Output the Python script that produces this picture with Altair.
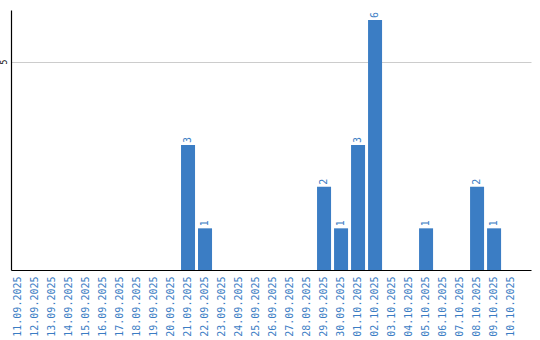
import altair as alt
import pandas as pd

dates = ["11.09.2025", "12.09.2025", "13.09.2025", "14.09.2025", "15.09.2025",
         "16.09.2025", "17.09.2025", "18.09.2025", "19.09.2025", "20.09.2025",
         "21.09.2025", "22.09.2025", "23.09.2025", "24.09.2025", "25.09.2025",
         "26.09.2025", "27.09.2025", "28.09.2025", "29.09.2025", "30.09.2025",
         "01.10.2025", "02.10.2025", "03.10.2025", "04.10.2025", "05.10.2025",
         "06.10.2025", "07.10.2025", "08.10.2025", "09.10.2025", "10.10.2025"]
counts = [0, 0, 0, 0, 0, 0, 0, 0, 0, 0,
          3, 1, 0, 0, 0, 0, 0, 0, 2, 1,
          3, 6, 0, 0, 1, 0, 0, 2, 1, 0]

df = pd.DataFrame({"date": dates, "count": counts})
df["label"] = df["count"].apply(lambda v: str(v) if v > 0 else "")

BLUE = "#3b7dc4"
FONT = "DejaVu Sans Mono"

x = alt.X("date:N", sort=dates, title=None,
          scale=alt.Scale(paddingInner=0.176, paddingOuter=0.38, align=0),
          axis=alt.Axis(labelAngle=-90, labelColor=BLUE, labelFont=FONT,
                        labelFontSize=10, ticks=False, labelPadding=6,
                        domainColor="#000", domainWidth=1.2, grid=False))
y = alt.Y("count:Q", title=None,
          scale=alt.Scale(domain=[0, 6.24], nice=False),
          axis=alt.Axis(values=[5], grid=True, gridColor="#cccccc", ticks=False,
                        labelAngle=-90, labelFontSize=8, labelFont=FONT,
                        labelColor="#000", labelPadding=3,
                        domainColor="#000", domainWidth=1.2))

bars = alt.Chart(df).mark_bar(color=BLUE).encode(x=x, y=y)
text = alt.Chart(df).mark_text(angle=270, align="left", baseline="middle",
                               dx=2, color=BLUE, font=FONT, fontSize=10).encode(
    x=alt.X("date:N", sort=dates), y="count:Q", text="label:N")

chart = alt.layer(bars, text).properties(
    width=520, height=260,
    autosize=alt.AutoSizeParams(type="none"),
    padding={"left": 11, "top": 10, "right": 9, "bottom": 70},
).configure_view(stroke=None)

chart.save("out.html", embed_options={"renderer": "svg", "actions": False})
